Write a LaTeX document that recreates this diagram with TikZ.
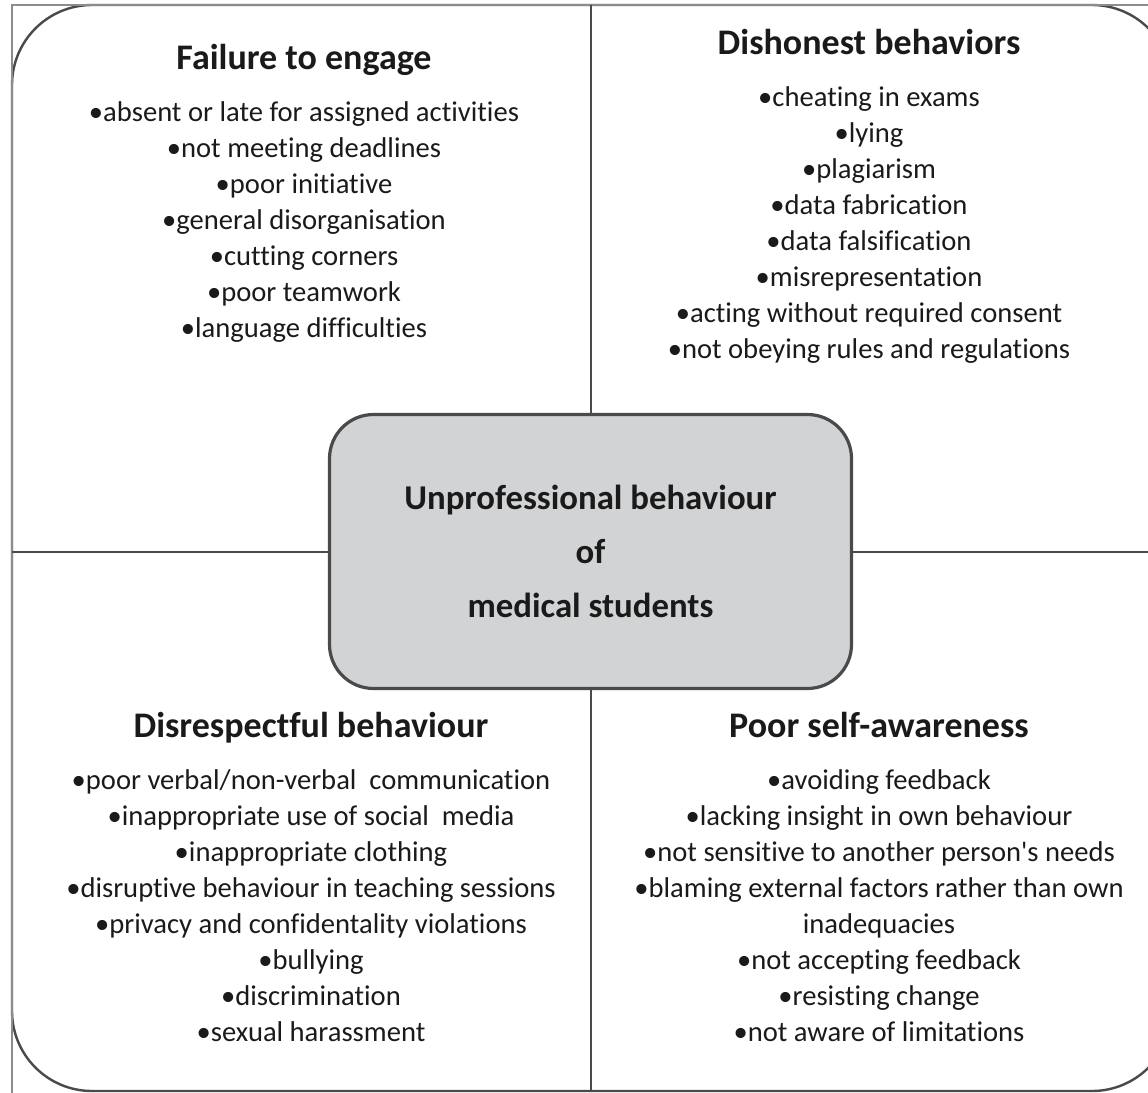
\documentclass[tikz,border=0pt]{standalone}
\usepackage{fontspec}
\setmainfont{Carlito}[Ligatures={NoCommon}]
\usetikzlibrary{positioning}
\definecolor{boxgray}{HTML}{D1D3D4}
\definecolor{linegray}{HTML}{4A4A4A}
\definecolor{framegray}{HTML}{8C8C8C}
\definecolor{inkgray}{HTML}{1A1A1A}

\begin{document}
\begin{tikzpicture}[x=0.5pt,y=-0.5pt,
    head/.style={font=\fontsize{18}{21}\selectfont\bfseries, text=inkgray, inner sep=0pt, text height=13pt, text depth=4pt},
    items/.style={font=\fontsize{14.3}{18}\selectfont, text=inkgray, align=center, inner sep=0pt},
    divider/.style={draw=linegray, line width=1pt},
    outer/.style={draw=linegray, line width=1.2pt, rounded corners=40pt},
    frame/.style={draw=framegray, line width=1.3pt},
    core/.style={draw=linegray, fill=boxgray, line width=1.6pt, rounded corners=22pt,
      minimum width=261pt, minimum height=137pt, align=center,
      font=\fontsize{17.4}{27}\selectfont\bfseries, text=inkgray}
  ]
  \useasboundingbox (0,0) rectangle (1148,1093);
  \clip (0,0) rectangle (1148,1093);

  % Outline
  \draw[outer] (12,5) rectangle (1172,1091);
  \draw[frame] (12,1093) -- (12,5) -- (1148,5);

  % Centre
  \node[core] (core) at (590.5,551.5) {Unprofessional behaviour\\of\\medical students};

  \coordinate (top) at (590.5,5);
  \coordinate (bottom) at (590.5,1091);
  \coordinate (left) at (12,551.5);
  \coordinate (right) at (1172,551.5);
  \draw[divider] (top) -- (core.north);
  \draw[divider] (core.south) -- (bottom);
  \draw[divider] (left) -- (core.west);
  \draw[divider] (core.east) -- (right);

  % Quadrants
  \node[head] (fail) at (304,60) {Failure to engage};
  \node[items, below=12pt of fail] (failL) {%
    •absent or late for assigned activities\\
    •not meeting deadlines\\
    •poor initiative\\
    •general disorganisation\\
    •cutting corners\\
    •poor teamwork\\
    •language difficulties};

  \node[head] (dish) at (869,45) {Dishonest behaviors};
  \node[items, below=12pt of dish] (dishL) {%
    •cheating in exams\\
    •lying\\
    •plagiarism\\
    •data fabrication\\
    •data falsification\\
    •misrepresentation\\
    •acting without required consent\\
    •not obeying rules and regulations};

  \node[head] (disr) at (311,728) {Disrespectful behaviour};
  \node[items, below=12pt of disr] (disrL) {%
    •poor verbal/non-verbal~ communication\\
    •inappropriate use of social~ media\\
    •inappropriate clothing\\
    •disruptive behaviour in teaching sessions\\
    •privacy and confidentality violations\\
    •bullying\\
    •discrimination\\
    •sexual harassment};

  \node[head] (self) at (879,728) {Poor self-awareness};
  \node[items, below=12pt of self] (selfL) {%
    •avoiding feedback\\
    •lacking insight in own behaviour\\
    •not sensitive to another person\textquotesingle s needs\\
    •blaming external factors rather than own\\
    inadequacies\\
    •not accepting feedback\\
    •resisting change\\
    •not aware of limitations};
\end{tikzpicture}
\end{document}
